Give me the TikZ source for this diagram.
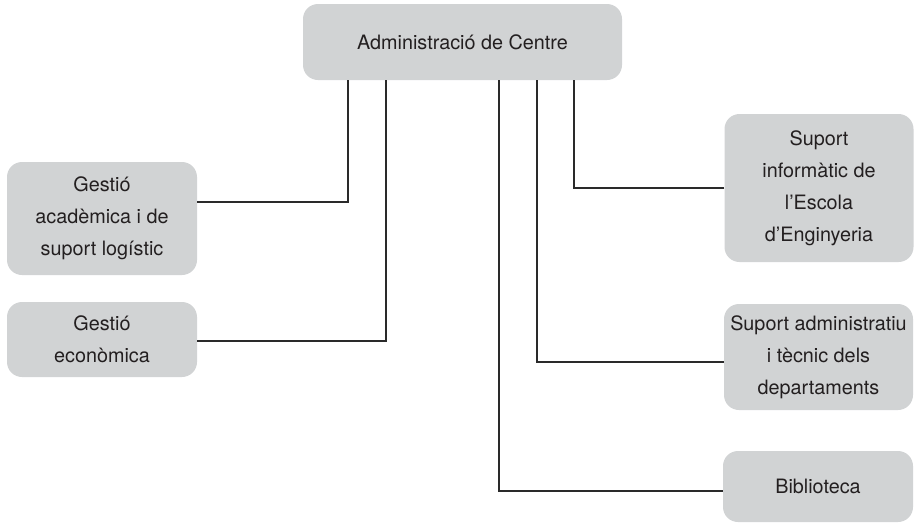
\documentclass[tikz,border=0pt]{standalone}
\usepackage{fontspec}
\setmainfont{TeX Gyre Heros}
\definecolor{boxgray}{HTML}{D1D3D4}
\definecolor{linegray}{HTML}{2A2A2A}
\definecolor{textgray}{HTML}{231F20}
\begin{document}
\begin{tikzpicture}[x=1pt,y=-1pt,
  orgbox/.style={rectangle, rounded corners=15pt, fill=boxgray, draw=none,
    align=center, inner sep=0pt,
    font=\fontsize{19.8}{32}\selectfont, text=textgray},
  conn/.style={draw=linegray, line width=1.2pt}]
\useasboundingbox (0,0) rectangle (914,523);
\node[orgbox, minimum width=319pt, minimum height=76pt] (top) at (462.5,42) {Administració de Centre};
\node[orgbox, minimum width=190pt, minimum height=113pt] (acad) at (102,218.5) {Gestió\\acadèmica i de\\suport logístic};
\node[orgbox, minimum width=190pt, minimum height=75pt] (econ) at (102,339.5) {Gestió\\econòmica};
\node[orgbox, minimum width=189pt, minimum height=148pt] (info) at (819,188) {Suport\\informàtic de\\l’Escola\\d’Enginyeria};
\node[orgbox, minimum width=189pt, minimum height=106pt] (adm) at (818.5,357) {Suport administratiu\\i tècnic dels\\departaments};
\node[orgbox, minimum width=190pt, minimum height=71pt] (bib) at (818,486.5) {Biblioteca};
\coordinate (a1) at (348,202);
\coordinate (a2) at (386,341);
\coordinate (a3) at (574,188);
\coordinate (a4) at (537,362);
\coordinate (a5) at (499,491);
\draw[conn] (acad.east |- a1) -- (a1) -- (a1 |- top.south);
\draw[conn] (econ.east |- a2) -- (a2) -- (a2 |- top.south);
\draw[conn] (info.west |- a3) -- (a3) -- (a3 |- top.south);
\draw[conn] (adm.west |- a4) -- (a4) -- (a4 |- top.south);
\draw[conn] (bib.west |- a5) -- (a5) -- (a5 |- top.south);
\end{tikzpicture}
\end{document}
